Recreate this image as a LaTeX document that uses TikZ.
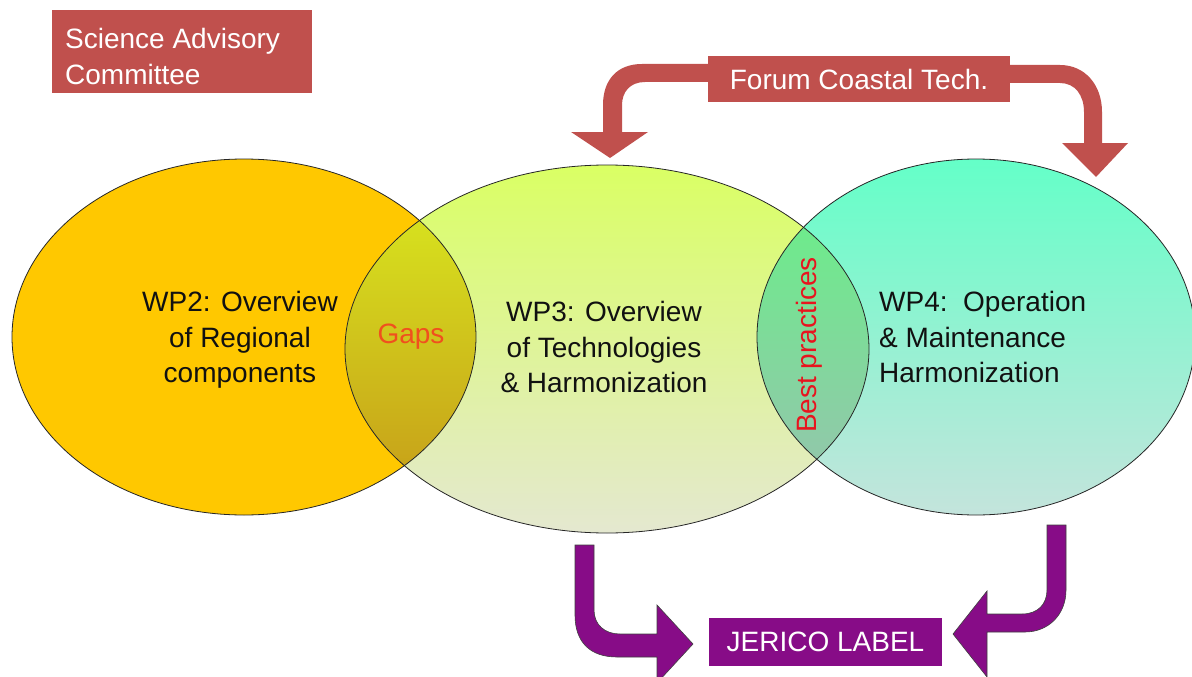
\documentclass[tikz,border=0pt]{standalone}
\usepackage{fontspec}
\setmainfont{Liberation Sans}
\definecolor{boxred}{RGB}{192,80,77}
\definecolor{jpurple}{RGB}{135,12,135}
\definecolor{goldfill}{RGB}{255,200,0}
\definecolor{midTop}{RGB}{218,255,100}
\definecolor{midMid}{RGB}{232,247,165}
\definecolor{midBot}{RGB}{228,232,208}
\definecolor{rTop}{RGB}{100,255,200}
\definecolor{rMid}{RGB}{140,238,208}
\definecolor{rBot}{RGB}{196,228,220}
\definecolor{gapTop}{RGB}{218,238,31}
\definecolor{gapBot}{RGB}{196,148,24}
\definecolor{bestTop}{RGB}{100,245,131}
\definecolor{bestBot}{RGB}{153,192,177}
\definecolor{gapText}{RGB}{240,80,30}
\definecolor{bestText}{RGB}{232,20,30}
\definecolor{inktext}{RGB}{17,17,17}
\begin{document}
\begin{tikzpicture}[x=1pt,y=-1pt,
  every node/.style={font=\fontsize{28}{35.5}\selectfont, inner sep=0pt, text=inktext},
  outline/.style={draw=black!85, line width=0.8pt},
  redbox/.style={fill=boxred, text=white},
  purplebox/.style={fill=jpurple, text=white},
  redarrow/.style={fill=boxred},
  purplearrow/.style={fill=jpurple, draw=black!75, line width=0.6pt}]
\useasboundingbox (0,0) rectangle (1192,677);
\fill[white] (0,0) rectangle (1192,677);
\clip (0,0) rectangle (1192,677);

\coordinate (c2) at (244,337);
\coordinate (c3) at (607,349);
\coordinate (c4) at (976,337);

% ellipse fills
\fill[goldfill] (c2) ellipse [x radius=232, y radius=178];
\shade[top color=midTop, middle color=midMid, bottom color=midBot] (c3) ellipse [x radius=262, y radius=184];
\shade[top color=rTop, middle color=rMid, bottom color=rBot] (c4) ellipse [x radius=219, y radius=178];

% overlap lenses
\begin{scope}
  \clip (c2) ellipse [x radius=232, y radius=178];
  \shade[top color=gapTop, bottom color=gapBot] (c3) ellipse [x radius=262, y radius=184];
\end{scope}
\begin{scope}
  \clip (c3) ellipse [x radius=262, y radius=184];
  \shade[top color=bestTop, bottom color=bestBot] (c4) ellipse [x radius=219, y radius=178];
\end{scope}

% outlines
\draw[outline] (c2) ellipse [x radius=232, y radius=178];
\draw[outline] (c3) ellipse [x radius=262, y radius=184];
\draw[outline] (c4) ellipse [x radius=219, y radius=178];

% texts
\node[align=center] (wp2) at (240,340) {WP2: Overview\\of Regional\\components};
\node[align=center] (wp3) at (604,347) {WP3: Overview\\of Technologies\\\& Harmonization};
\node[align=left, anchor=west] (wp4) at (879,337) {WP4:\ \ Operation\\\& Maintenance\\Harmonization};
\node[text=gapText] (gaps) at (411,337) {Gaps};
\node[text=bestText, rotate=90] (best) at (809,345) {Best practices};

% red bent arrows
\fill[redarrow] (712,64) -- (642,64) .. controls (617,64) and (603,80) .. (603,105) -- (603,132) -- (571,132) -- (610,158) -- (648,132) -- (622,132) -- (622,105) .. controls (622,92) and (630,82) .. (645,82) -- (712,82) -- cycle;
\fill[redarrow] (1006,65) -- (1060,65) .. controls (1085,65) and (1102,85) .. (1102,112) -- (1102,143) -- (1128,143) -- (1096,177) -- (1062,143) -- (1084,143) -- (1084,112) .. controls (1084,95) and (1075,83) .. (1060,83) -- (1006,83) -- cycle;

% purple bent arrows
\filldraw[purplearrow] (575,545) -- (575,615) .. controls (575,642) and (590,657) .. (617,657) -- (657,657) -- (657,683) -- (693,644) -- (657,605) -- (657,634) -- (620,634) .. controls (605,634) and (594,625) .. (594,610) -- (594,545) -- cycle;
\filldraw[purplearrow] (1066,525) -- (1066,590) .. controls (1066,615) and (1048,632) .. (1025,632) -- (987,632) -- (987,677) -- (953,634) -- (987,591) -- (987,614) -- (1022,614) .. controls (1038,614) and (1047,604) .. (1047,590) -- (1047,525) -- cycle;

% boxes
\node[redbox, minimum width=260pt, minimum height=83pt, anchor=north west] (sac) at (52,10) {};
\node[text=white, align=left, anchor=west] (sactext) at ([xshift=13pt, yshift=-5pt]sac.west) {Science Advisory\\Committee};
\node[redbox, minimum width=302pt, minimum height=46pt] (forum) at (859,79) {Forum Coastal Tech.};
\node[purplebox, minimum width=233pt, minimum height=48pt] (jerico) at (825.5,642) {JERICO LABEL};
\end{tikzpicture}
\end{document}
